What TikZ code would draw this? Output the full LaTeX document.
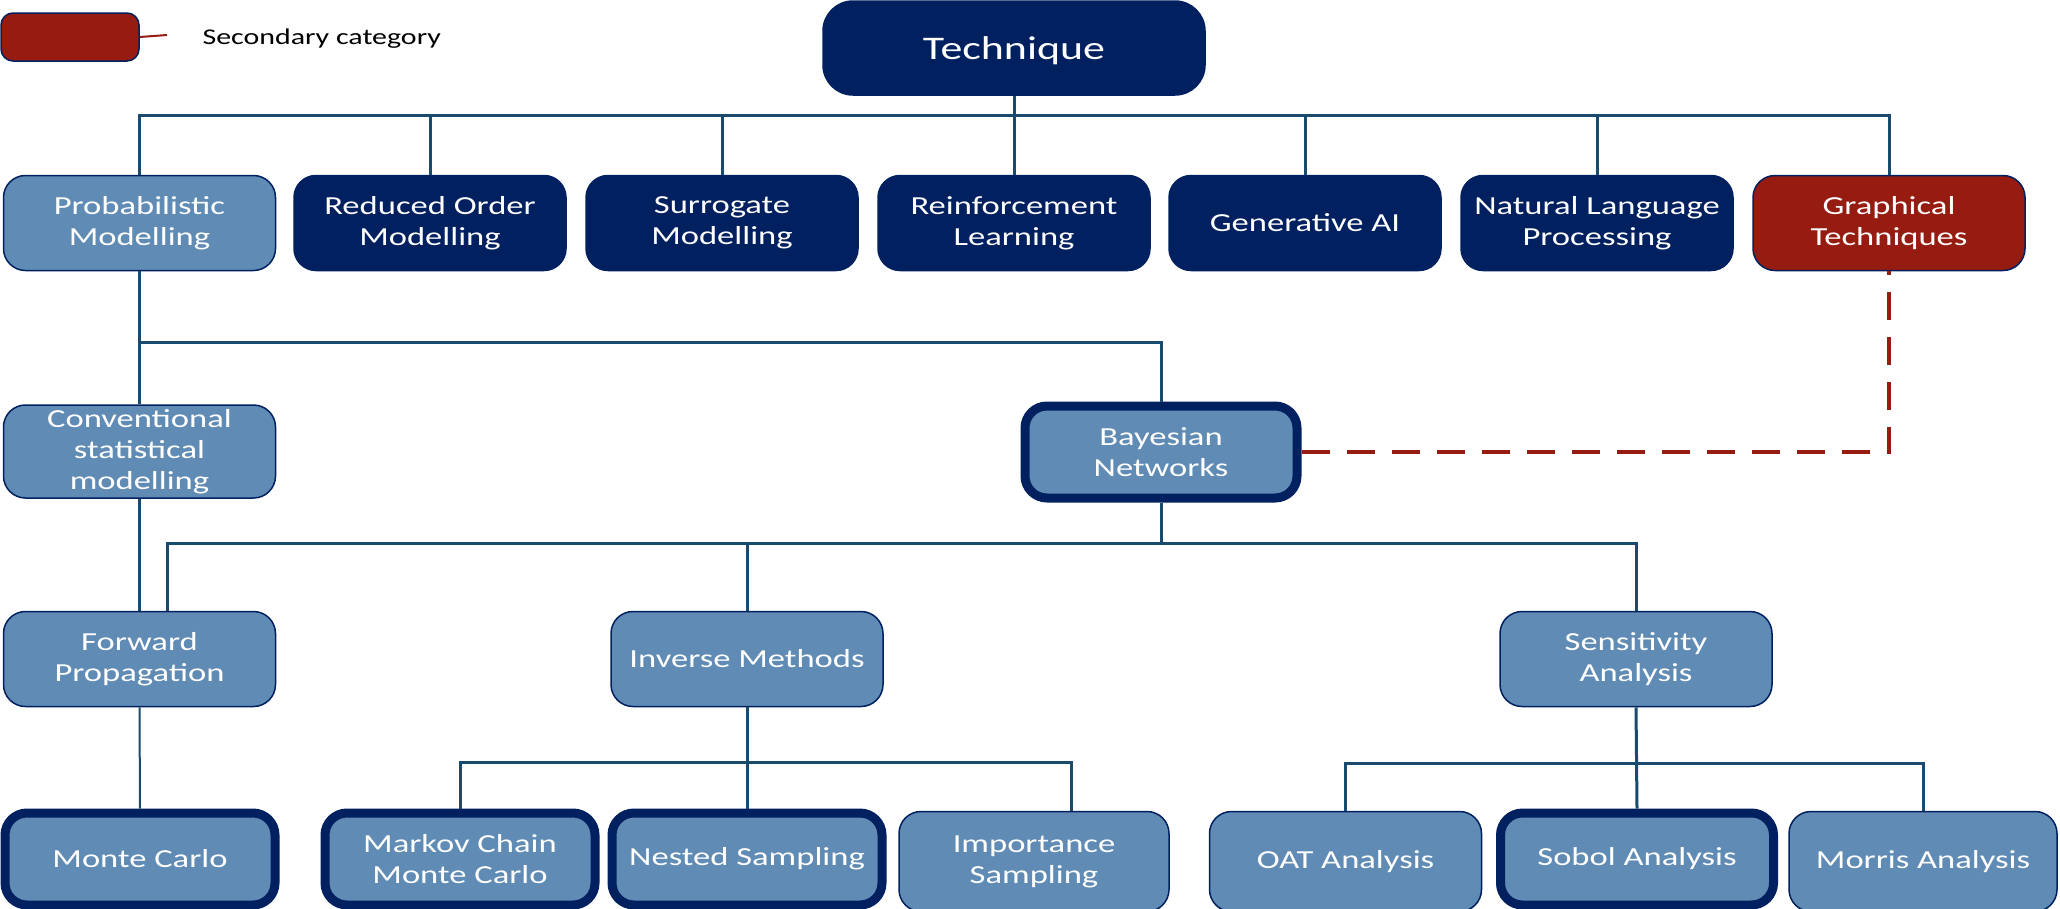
\documentclass[tikz,border=0pt]{standalone}
\usepackage{fontspec}
\setmainfont{Carlito}[FakeStretch=1.33]
\definecolor{navy}{RGB}{0,32,96}
\definecolor{steel}{RGB}{95,139,180}
\definecolor{brick}{RGB}{150,27,16}
\definecolor{linkblue}{RGB}{25,75,110}
\tikzset{
  basebox/.style={rounded corners=22pt, minimum width=272pt, minimum height=95pt,
    align=center, text=white, inner sep=2pt, font=\fontsize{26}{31}\selectfont},
  subbox/.style={basebox, fill=steel, draw=navy, line width=1.5pt},
  catbox/.style={basebox, fill=navy, draw=navy, line width=1.5pt},
  sidebox/.style={basebox, fill=brick, draw=navy, line width=1.5pt},
  keybox/.style={basebox, fill=steel, draw=navy, line width=9pt,
    minimum width=270pt, minimum height=92pt},
  link/.style={draw=linkblue, line width=3pt},
  sidelink/.style={draw=brick, line width=3.5pt, dash pattern=on 28pt off 17pt}
}
\begin{document}
\begin{tikzpicture}[x=1pt, y=-1pt]
\useasboundingbox (0,0) rectangle (2060,908);

% legend
\node[sidebox, rounded corners=12pt, minimum width=138pt, minimum height=48pt] (key) at (70,37) {};
\coordinate (keyend) at (167,35);
\draw[draw=brick, line width=2pt] (key.east) -- (keyend);
\node[anchor=west, font=\fontsize{22.5}{27}\selectfont] (keytext) at (199,38.5) {Secondary category};

% root
\node[catbox, rounded corners=30pt, minimum width=382pt, minimum height=94pt,
      font=\fontsize{33}{38}\selectfont] (tech) at (1014,48)
      {\raisebox{-3pt}[\height][\depth]{Technique}};

% first level
\node[subbox]  (prob) at (139.5,223) {Probabilistic\\Modelling};
\node[catbox]  (rom)  at (430,223)   {Reduced Order\\Modelling};
\node[catbox]  (sur)  at (722,223)   {Surrogate\\Modelling};
\node[catbox]  (rl)   at (1014,223)  {Reinforcement\\Learning};
\node[catbox]  (gen)  at (1305,223)  {Generative AI};
\node[catbox]  (nlp)  at (1597,223)  {Natural Language\\Processing};
\node[sidebox] (graph) at (1889,223) {Graphical\\Techniques};

% second level
\node[subbox, minimum height=93pt] (conv) at (139.5,451.5) {Conventional\\statistical\\modelling};
\node[keybox, minimum width=272pt] (bayes) at (1161,452) {Bayesian\\Networks};

% third level
\node[subbox] (fwd)  at (139.5,659) {Forward\\Propagation};
\node[subbox] (inv)  at (747,659)   {Inverse Methods};
\node[subbox] (sens) at (1636,659)  {Sensitivity\\Analysis};

% methods (the row runs past the lower edge)
\node[keybox] (mc)     at (140,859)  {Monte Carlo};
\node[keybox] (mcmc)   at (460,859)  {Markov Chain\\Monte Carlo};
\node[keybox] (nest)   at (747,859)  {Nested Sampling};
\node[subbox, minimum width=270pt, minimum height=100pt] (imp)    at (1034,861.5)   {Importance\\Sampling};
\node[subbox, minimum width=272pt, minimum height=100pt] (oat)    at (1345.5,861.5) {OAT Analysis};
\node[keybox, minimum width=273pt] (sobol)  at (1637,859) {Sobol Analysis};
\node[subbox, minimum width=268pt, minimum height=100pt] (morris) at (1923,861.5)   {Morris Analysis};

% connectors from the root
\coordinate (b1) at (1014,115);
\draw[link] (tech.south) -- (b1);
\draw[link] (prob.north) |- (graph.north |- b1) -- (graph.north);
\foreach \n in {rom,sur,rl,gen,nlp}
  \draw[link] (\n.north) -- (\n.north |- b1);

% probabilistic modelling branch
\coordinate (j1) at (139.5,342);
\draw[link] (prob.south) -- (conv.north);
\draw[link] (j1) -| (bayes.north);
\draw[link] (conv.south) -- (fwd.north);

% bayesian network branch
\coordinate (b2) at (1161,543);
\draw[link] (bayes.south) -- (b2);
\draw[link] ([xshift=28pt]fwd.north) |- (sens.north |- b2) -- (sens.north);
\draw[link] (inv.north) -- (inv.north |- b2);

% forward propagation
\draw[link, line width=2pt] (fwd.south) -- (mc.north);

% inverse methods
\coordinate (b3) at (747,762);
\draw[link] (inv.south) -- (nest.north);
\draw[link] (mcmc.north) |- ([xshift=37pt]imp.north |- b3) -- ([xshift=37pt]imp.north);

% sensitivity analysis
\coordinate (b4) at (1636,763);
\draw[link] (sens.south) -- (sobol.north);
\draw[link] (oat.north) |- (morris.north |- b4) -- (morris.north);

% secondary category link
\draw[sidelink] (bayes.east) -| (graph.south);
\end{tikzpicture}
\end{document}
